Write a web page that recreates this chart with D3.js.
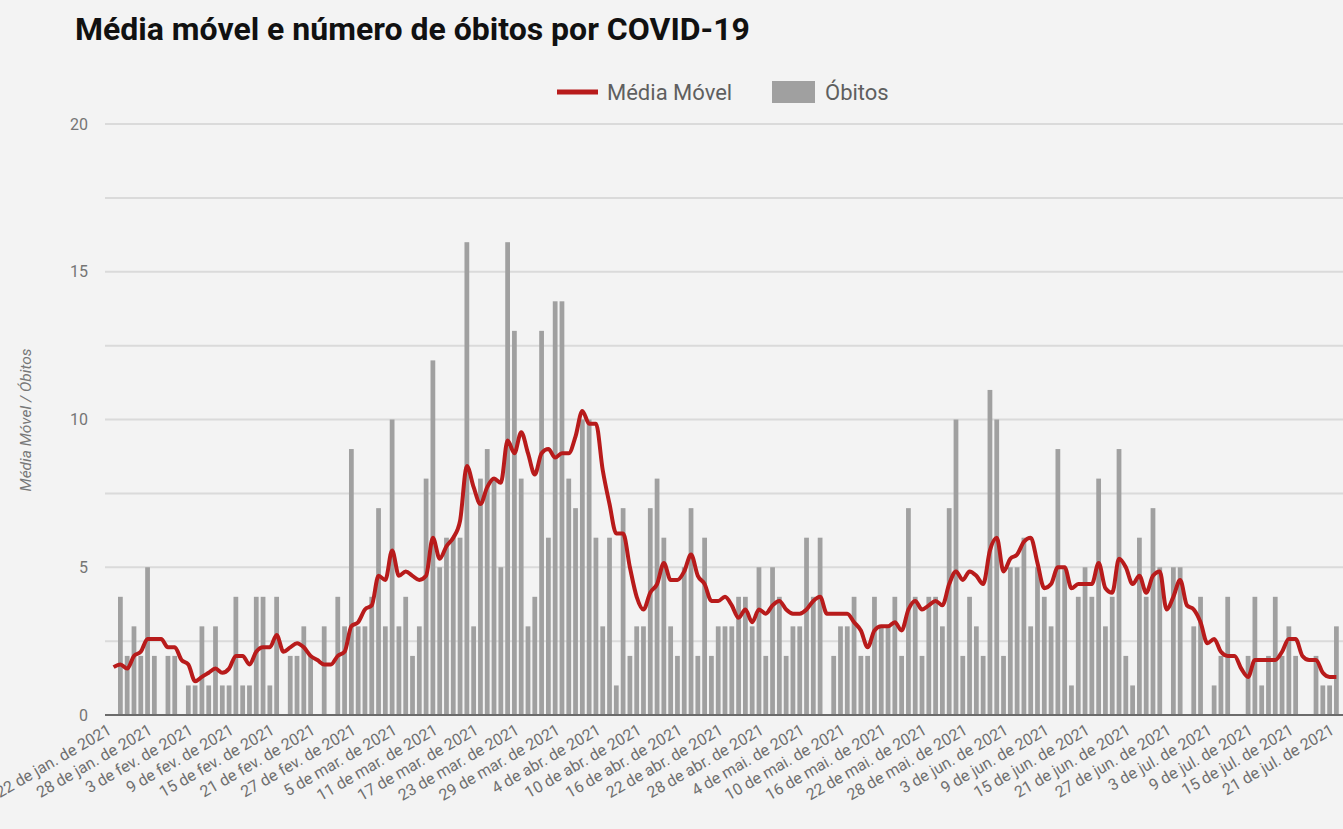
<!DOCTYPE html>
<html>
<head>
<meta charset="utf-8">
<script src="https://cdn.jsdelivr.net/npm/d3@7"></script>
<style>
  body { margin: 0; background: #f3f3f3; font-family: Roboto, "Noto Sans", sans-serif; }
  svg { display: block; }
</style>
</head>
<body>
<svg id="chart" width="1343" height="829"></svg>
<script>
// daily deaths, 22 jan 2021 .. 21 jul 2021
const deaths = [
  0,4,2,3,2,5,2,0,2,2, 0,1,1,3,1,3,1,1,4,1,
  1,4,4,1,4,0,2,2,3,2, 0,3,0,4,3,9,3,3,4,7,
  3,10,3,4,2,3,8,12,5,6, 6,6,16,3,8,9,8,5,16,13,
  8,3,4,13,6,14,14,8,7,10, 10,6,3,6,1,7,2,3,3,7,
  8,6,3,2,5,7,2,6,2,3, 3,3,4,4,3,5,2,5,4,2,
  3,3,6,4,6,0,2,3,3,4, 2,2,4,3,3,4,2,7,4,2,
  4,4,3,7,10,2,4,3,2,11, 10,2,5,5,6,3,5,4,3,9,
  5,1,4,5,4,8,3,4,9,2, 1,6,4,7,5,0,5,5,0,3,
  4,0,1,2,4,0,0,2,4,1, 2,4,2,3,2,0,0,2,1,1,
  3
];

// moving average
const movingAvg = [
  1.62,1.71,1.57,2.00,2.14,2.57,2.57,2.57,2.29,2.29, 1.86,1.71,1.14,1.29,1.43,1.57,1.43,1.57,2.00,2.00,
  1.71,2.14,2.29,2.29,2.71,2.14,2.29,2.43,2.29,2.00, 1.86,1.71,1.71,2.00,2.14,3.00,3.14,3.57,3.71,4.71,
  4.57,5.57,4.71,4.86,4.71,4.57,4.71,6.00,5.29,5.71, 6.00,6.57,8.43,7.71,7.14,7.71,8.00,7.86,9.29,8.86,
  9.57,8.86,8.14,8.86,9.00,8.71,8.86,8.86,9.43,10.29, 9.86,9.86,8.29,7.14,6.14,6.14,5.00,4.00,3.57,4.14,
  4.43,5.14,4.57,4.57,4.86,5.43,4.71,4.43,3.86,3.86, 4.00,3.71,3.29,3.57,3.14,3.57,3.43,3.71,3.86,3.57,
  3.43,3.43,3.57,3.86,4.00,3.43,3.43,3.43,3.43,3.14, 2.86,2.29,2.86,3.00,3.00,3.14,2.86,3.57,3.86,3.57,
  3.71,3.86,3.71,4.43,4.86,4.57,4.86,4.71,4.43,5.57, 6.00,4.86,5.29,5.43,5.86,6.00,5.14,4.29,4.43,5.00,
  5.00,4.29,4.43,4.43,4.43,5.14,4.29,4.14,5.29,5.00, 4.43,4.71,4.14,4.71,4.86,3.57,4.00,4.57,3.71,3.57,
  3.14,2.43,2.57,2.14,2.00,2.00,1.57,1.29,1.86,1.86, 1.86,1.86,2.14,2.57,2.57,2.00,1.86,1.86,1.43,1.29,
  1.29
];

// one label every 6 days
const tickLabels = [
  "22 de jan. de 2021","28 de jan. de 2021","3 de fev. de 2021","9 de fev. de 2021",
  "15 de fev. de 2021","21 de fev. de 2021","27 de fev. de 2021","5 de mar. de 2021",
  "11 de mar. de 2021","17 de mar. de 2021","23 de mar. de 2021","29 de mar. de 2021",
  "4 de abr. de 2021","10 de abr. de 2021","16 de abr. de 2021","22 de abr. de 2021",
  "28 de abr. de 2021","4 de mai. de 2021","10 de mai. de 2021","16 de mai. de 2021",
  "22 de mai. de 2021","28 de mai. de 2021","3 de jun. de 2021","9 de jun. de 2021",
  "15 de jun. de 2021","21 de jun. de 2021","27 de jun. de 2021","3 de jul. de 2021",
  "9 de jul. de 2021","15 de jul. de 2021","21 de jul. de 2021"
];
const tickStep = 6;
const yTicks = [0, 5, 10, 15, 20];
const yGrid = [2.5, 5, 7.5, 10, 12.5, 15, 17.5, 20];

const startDate = new Date(2021, 0, 22);
const days = deaths.map((d, i) => d3.timeDay.offset(startDate, i));

const width = 1343, height = 829;
const plotLeft = 105, plotRight = 1343;
const svg = d3.select("#chart");

const x = d3.scaleBand()
    .domain(days)
    .range([110.2, 1339.8])
    .paddingInner(0.3)
    .paddingOuter(0.15);

const y = d3.scaleLinear()
    .domain([0, 20])
    .range([715, 124]);

// title
svg.append("text")
    .attr("x", 75).attr("y", 40)
    .style("font-size", "32px")
    .style("font-weight", "bold")
    .style("fill", "#111")
    .text("Média móvel e número de óbitos por COVID-19");

// legend
const legend = svg.append("g");
legend.append("line")
    .attr("x1", 557).attr("x2", 598).attr("y1", 92).attr("y2", 92)
    .style("stroke", "#b81b1b").style("stroke-width", 5);
legend.append("text")
    .attr("x", 607).attr("y", 100)
    .style("font-size", "22px").style("fill", "#5f5f5f")
    .text("Média Móvel");
legend.append("rect")
    .attr("x", 772).attr("y", 81).attr("width", 43).attr("height", 22)
    .style("fill", "#a0a0a0");
legend.append("text")
    .attr("x", 825).attr("y", 100)
    .style("font-size", "22px").style("fill", "#5f5f5f")
    .text("Óbitos");

// grid
svg.selectAll("line.grid")
    .data(yGrid).enter()
    .append("line").attr("class", "grid")
    .attr("x1", plotLeft).attr("x2", plotRight)
    .attr("y1", d => y(d)).attr("y2", d => y(d))
    .style("stroke", "#dadada").style("stroke-width", 2);

// y labels
svg.selectAll("text.ylab")
    .data(yTicks).enter()
    .append("text").attr("class", "ylab")
    .attr("x", 88).attr("y", d => y(d))
    .attr("dy", "0.35em")
    .attr("text-anchor", "end")
    .style("font-size", "16px").style("fill", "#757575")
    .text(d => d);

svg.append("text")
    .attr("transform", `translate(31,420) rotate(-90)`)
    .attr("text-anchor", "middle")
    .style("font-size", "15.5px").style("font-style", "italic").style("fill", "#777")
    .text("Média Móvel / Óbitos");

// bars
svg.selectAll("rect.bar")
    .data(days).enter()
    .append("rect").attr("class", "bar")
    .attr("x", d => x(d))
    .attr("width", x.bandwidth())
    .attr("y", (d, i) => y(deaths[i]))
    .attr("height", (d, i) => y(0) - y(deaths[i]))
    .style("fill", "#a0a0a0");

// baseline
svg.append("line")
    .attr("x1", plotLeft).attr("x2", plotRight)
    .attr("y1", y(0)).attr("y2", y(0))
    .style("stroke", "#6b6b6b").style("stroke-width", 2);

// moving average line
const line = d3.line()
    .x((d, i) => x(days[i]) + x.bandwidth() / 2)
    .y(d => y(d))
    .curve(d3.curveMonotoneX);

svg.append("path")
    .datum(movingAvg)
    .attr("d", line)
    .style("fill", "none")
    .style("stroke", "#b81b1b")
    .style("stroke-width", 4)
    .style("stroke-linejoin", "round");

// x tick labels
const xAxis = d3.axisBottom(x)
    .tickValues(days.filter((d, i) => i % tickStep === 0))
    .tickFormat((d, i) => tickLabels[i])
    .tickSize(0);

const gx = svg.append("g")
    .attr("transform", `translate(0,${y(0)})`)
    .call(xAxis);
gx.select(".domain").remove();
gx.selectAll("text")
    .attr("y", 0).attr("dy", 0)
    .attr("transform", "translate(-1,18) rotate(-30)")
    .attr("text-anchor", "end")
    .style("font-family", "Roboto, sans-serif")
    .style("font-size", "16px")
    .style("fill", "#6f6f6f");
</script>
</body>
</html>
